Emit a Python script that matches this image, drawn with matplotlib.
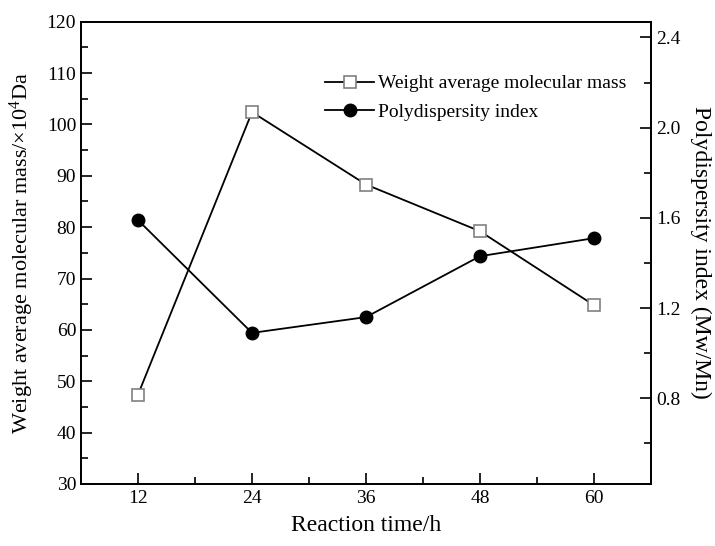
import numpy as np
import matplotlib
matplotlib.use("Agg")
import matplotlib.pyplot as plt
from matplotlib.ticker import MultipleLocator, FormatStrFormatter

plt.rcParams['font.family'] = ['Liberation Serif', 'DejaVu Serif']
plt.rcParams['mathtext.fontset'] = 'custom'
plt.rcParams['mathtext.rm'] = 'Liberation Serif'

time_h = [12, 24, 36, 48, 60]
mw = [47.4, 102.4, 88.3, 79.2, 64.8]
pdi = [1.59, 1.09, 1.16, 1.43, 1.51]

fig = plt.figure(figsize=(7.15, 5.46), dpi=100)
ax = fig.add_axes([0.1133, 0.1136, 0.7972, 0.8467])
ax2 = ax.twinx()

l1, = ax.plot(time_h, mw, color='black', lw=1.3, marker='s', ms=8,
              mfc='white', mec='#808080', mew=1.2, label='Weight average molecular mass')
l2, = ax2.plot(time_h, pdi, color='black', lw=1.3, marker='o', ms=9,
               mfc='black', mec='black', label='Polydispersity index')

ax.set_xlim(6, 66)
ax.set_ylim(30, 120)
ax2.set_ylim(0.42, 2.47)

ax.xaxis.set_major_locator(MultipleLocator(12))
ax.xaxis.set_minor_locator(MultipleLocator(6))
ax.yaxis.set_major_locator(MultipleLocator(10))
ax.yaxis.set_minor_locator(MultipleLocator(5))
ax2.yaxis.set_major_locator(MultipleLocator(0.4))
ax2.yaxis.set_minor_locator(MultipleLocator(0.2))
ax2.yaxis.set_major_formatter(FormatStrFormatter('%.1f'))

ax.tick_params(axis='both', which='major', direction='in', length=8, width=1.2, labelsize=14)
ax.tick_params(axis='both', which='minor', direction='in', length=5, width=1.2)
ax.tick_params(axis='x', pad=4)
ax2.tick_params(axis='y', which='major', direction='in', length=8, width=1.2, labelsize=14)
ax2.tick_params(axis='y', which='minor', direction='in', length=5, width=1.2)

for a in (ax, ax2):
    for s in a.spines.values():
        s.set_linewidth(1.3)

ax.set_xlabel('Reaction time/h', fontsize=17, labelpad=6)
ax.set_ylabel(r'Weight average molecular mass/×10$\mathregular{^4}$Da', fontsize=16, labelpad=8)
ax2.set_ylabel('Polydispersity index (Mw/Mn)', fontsize=17, rotation=270, labelpad=22)

ax.legend(handles=[l1, l2], loc='upper left', bbox_to_anchor=(0.415, 0.902),
          frameon=False, fontsize=14, handlelength=2.5, handletextpad=0.2,
          labelspacing=0.55, borderaxespad=0)

fig.savefig('out.png', dpi=100)
